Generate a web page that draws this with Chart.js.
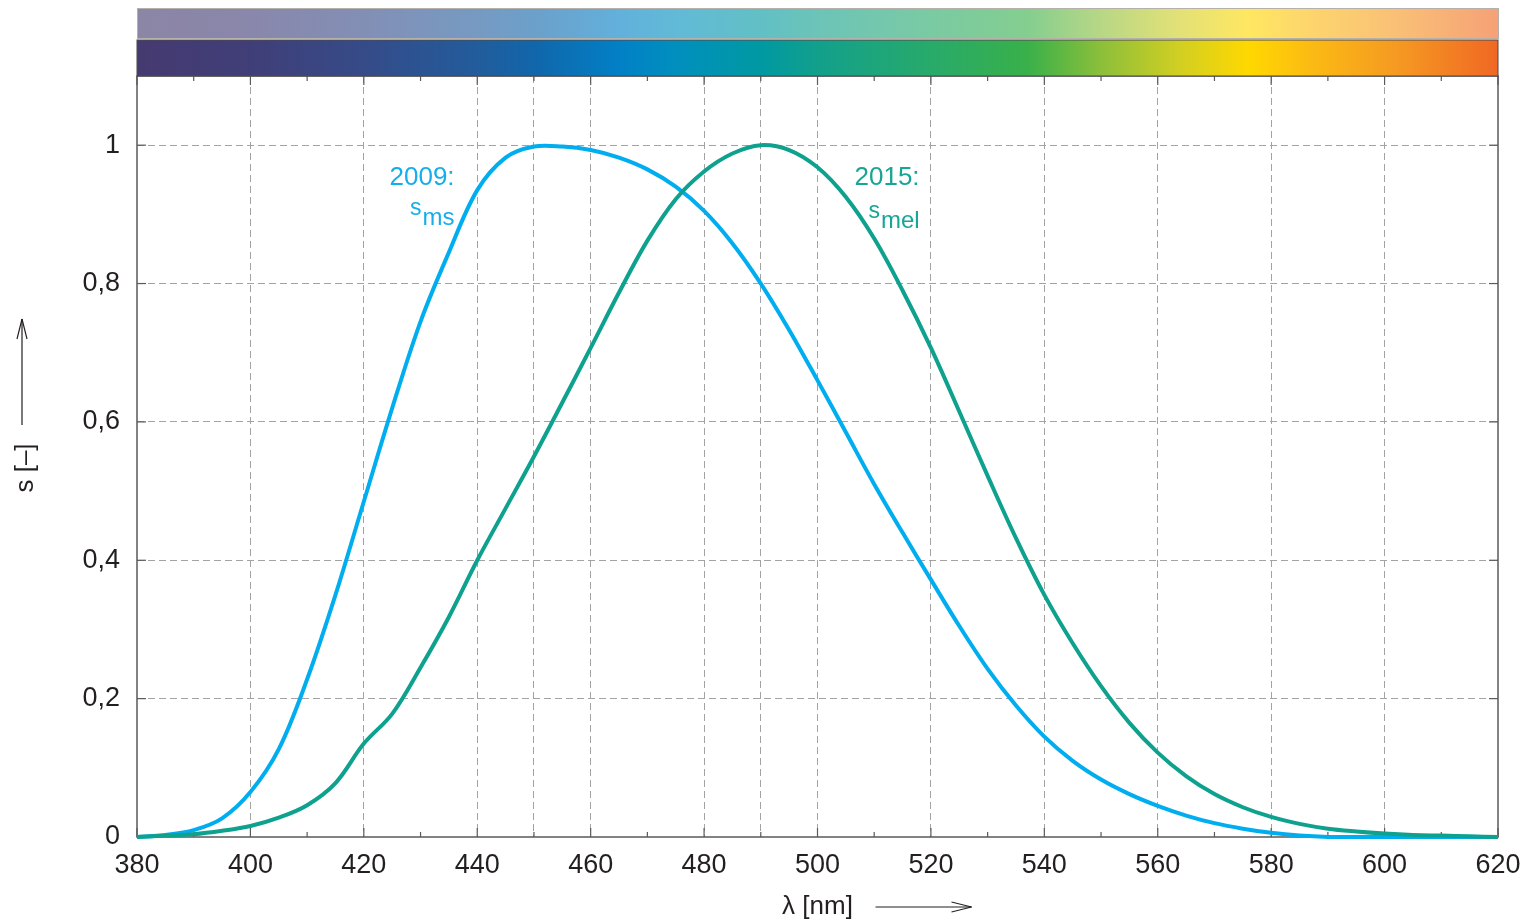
<!DOCTYPE html>
<html>
<head>
<meta charset="utf-8">
<script src="https://cdn.jsdelivr.net/npm/chart.js@4.4.1/dist/chart.umd.min.js"></script>
<style>
  html, body { margin: 0; padding: 0; background: #fff; }
  canvas { display: block; }
</style>
</head>
<body>
<canvas id="spectrumChart" width="1527" height="923"></canvas>
<script>
// wavelengths in nm
const wavelengths = [
  380, 385, 390, 395, 400, 405, 410, 415, 420, 425, 430, 435, 440, 445, 450,
  455, 460, 465, 470, 475, 480, 485, 490, 495, 500, 505, 510, 515, 520, 525,
  530, 535, 540, 545, 550, 555, 560, 565, 570, 575, 580, 585, 590, 595, 600,
  605, 610, 615, 620,
];

// 2009: s_ms
const smsValues = [
  0, 0.003, 0.01, 0.027, 0.065, 0.127, 0.228, 0.35, 0.485, 0.62, 0.745, 0.845, 0.935, 0.982, 0.998,
  0.998, 0.993, 0.982, 0.965, 0.94, 0.905, 0.858, 0.8, 0.733, 0.66, 0.585, 0.51, 0.44, 0.372, 0.305,
  0.243, 0.19, 0.145, 0.11, 0.083, 0.062, 0.045, 0.031, 0.02, 0.012, 0.006, 0.002, 0, 0, 0,
  0, 0, 0, 0,
];

// 2015: s_mel
const smelValues = [
  0, 0.002, 0.004, 0.009, 0.016, 0.028, 0.046, 0.078, 0.135, 0.178, 0.245, 0.318, 0.4, 0.475, 0.55,
  0.628, 0.707, 0.787, 0.862, 0.922, 0.962, 0.988, 1.0, 0.993, 0.968, 0.925, 0.865, 0.79, 0.707, 0.615,
  0.522, 0.432, 0.35, 0.28, 0.218, 0.165, 0.122, 0.088, 0.062, 0.043, 0.029, 0.019, 0.012, 0.008, 0.005,
  0.003, 0.002, 0.001, 0,
];

// vertical dashed grid lines (nm)
const xGridLines = [400, 420, 440, 450, 460, 480, 490, 500, 520, 540, 560, 580, 600];

// spectrum colour bar stops [nm, colour]
const spectrumStops = [
  [380, "#463a70"], [400, "#403e78"], [420, "#354b88"], [440, "#225c9c"],
  [450, "#1166aa"], [465, "#0280c6"], [475, "#008fbe"], [490, "#0099a2"],
  [500, "#12a08c"], [520, "#28aa6a"], [537, "#39b04a"], [550, "#8cbf3a"],
  [564, "#d2cf22"], [576, "#ffd800"], [586, "#fcbd12"], [602, "#f59a22"],
  [620, "#f06824"],
];

const blue = "#00aeef";
const teal = "#0ea18e";
const textColor = "#231f20";
const gridColor = "#a3a3a3";
const frameColor = "#5a5a5a";
const fontFamily = "'Liberation Sans', Arial, Helvetica, sans-serif";

// curve labels: [year, subscript, nm, value of first line, value of second line, colour]
const curveLabels = [
  ["2009:", "ms", 436, 0.942, 0.884, "#16aeea"],
  ["2015:", "mel", 518, 0.942, 0.881, "#17a596"],
];

function lighten(hex, f) {
  const n = parseInt(hex.slice(1), 16);
  const r = (n >> 16) & 255, g = (n >> 8) & 255, b = n & 255;
  const m = (c) => Math.round(c + (255 - c) * f);
  return "rgb(" + m(r) + "," + m(g) + "," + m(b) + ")";
}

function strokeLine(ctx, x1, y1, x2, y2) {
  ctx.beginPath();
  ctx.moveTo(x1, y1);
  ctx.lineTo(x2, y2);
  ctx.stroke();
}

const decorPlugin = {
  id: "decor",
  beforeDatasetsDraw(chart) {
    const { ctx, chartArea: a, scales: { x, y } } = chart;
    ctx.save();
    ctx.strokeStyle = frameColor;
    ctx.lineWidth = 1.2;
    x.ticks.forEach((t) => {
      const px = x.getPixelForValue(t.value);
      const len = t.value % 20 === 0 ? 9 : 5;
      strokeLine(ctx, px, a.bottom, px, a.bottom - len);
      strokeLine(ctx, px, a.top, px, a.top + len);
    });
    y.ticks.forEach((t) => {
      const py = y.getPixelForValue(t.value);
      strokeLine(ctx, a.left, py, a.left + 9, py);
      strokeLine(ctx, a.right, py, a.right - 9, py);
    });
    ctx.lineWidth = 1.5;
    ctx.strokeRect(a.left, a.top, a.right - a.left, a.bottom - a.top);
    ctx.restore();
  },
  afterDraw(chart) {
    const { ctx, chartArea: a, scales: { x, y } } = chart;
    ctx.save();

    // colour bars above the plot
    const x0 = x.getPixelForValue(380), x1 = x.getPixelForValue(620);
    const lower = ctx.createLinearGradient(x0, 0, x1, 0);
    const upper = ctx.createLinearGradient(x0, 0, x1, 0);
    spectrumStops.forEach(([nm, c]) => {
      const f = (nm - 380) / 240;
      lower.addColorStop(f, c);
      upper.addColorStop(f, lighten(c, 0.38));
    });
    ctx.fillStyle = upper;
    ctx.fillRect(x0, a.top - 68, x1 - x0, 30);
    ctx.strokeStyle = "#b5b0aa";
    ctx.lineWidth = 1;
    ctx.strokeRect(x0 + 0.5, a.top - 68 + 0.5, x1 - x0, 30);
    ctx.fillStyle = lower;
    ctx.fillRect(x0, a.top - 36, x1 - x0, 36);
    ctx.strokeStyle = "#4a4a4a";
    ctx.strokeRect(x0, a.top - 36, x1 - x0, 36);

    // curve labels
    ctx.textAlign = "right";
    ctx.textBaseline = "alphabetic";
    curveLabels.forEach(([year, sub, nm, v1, v2, c]) => {
      const px = x.getPixelForValue(nm);
      ctx.fillStyle = c;
      ctx.font = "26px " + fontFamily;
      ctx.fillText(year, px, y.getPixelForValue(v1));
      ctx.font = "24px " + fontFamily;
      const w = ctx.measureText(sub).width;
      const py = y.getPixelForValue(v2);
      ctx.fillText(sub, px, py);
      ctx.font = "23px " + fontFamily;
      ctx.fillText("s", px - w - 1, py - 10);
    });

    // axis titles with arrows
    ctx.fillStyle = textColor;
    ctx.strokeStyle = textColor;
    ctx.lineWidth = 1.2;
    ctx.font = "26px " + fontFamily;

    const yMid = 468;
    ctx.save();
    ctx.translate(26, yMid);
    ctx.rotate(-Math.PI / 2);
    ctx.textAlign = "center";
    ctx.textBaseline = "middle";
    ctx.fillText("s [\u2013]", 0, 0);
    ctx.restore();
    strokeLine(ctx, 22, yMid - 43, 22, yMid - 149);
    strokeLine(ctx, 22, yMid - 149, 17, yMid - 129);
    strokeLine(ctx, 22, yMid - 149, 27, yMid - 129);

    const xMid = (a.left + a.right) / 2;
    ctx.textAlign = "center";
    ctx.fillText("\u03bb [nm]", xMid, 914);
    strokeLine(ctx, xMid + 58, 907, xMid + 154, 907);
    strokeLine(ctx, xMid + 154, 907, xMid + 134, 902);
    strokeLine(ctx, xMid + 154, 907, xMid + 134, 912);
    ctx.restore();
  },
};

const toPoints = (vals) => wavelengths.map((w, i) => ({ x: w, y: vals[i] }));

const spectrumConfig = {
  type: "line",
  data: {
    datasets: [
      {
        label: "2015: smel",
        data: toPoints(smelValues),
        borderColor: teal,
        borderWidth: 4,
        pointRadius: 0,
        tension: 0.35,
        clip: false,
      },
      {
        label: "2009: sms",
        data: toPoints(smsValues),
        borderColor: blue,
        borderWidth: 4,
        pointRadius: 0,
        tension: 0.35,
        clip: false,
      },
    ],
  },
  options: {
    responsive: false,
    animation: false,
    layout: {
      padding: { top: 76, right: 29, left: 0, bottom: 0 },
    },
    plugins: {
      legend: { display: false },
      tooltip: { enabled: false },
    },
    scales: {
      x: {
        type: "linear",
        min: 380,
        max: 620,
        afterFit: (s) => {
          s.height = 86;
          s.paddingLeft = 0;
          s.paddingRight = 0;
        },
        ticks: {
          stepSize: 10,
          autoSkip: false,
          maxRotation: 0,
          padding: 12,
          color: textColor,
          font: { size: 27, family: fontFamily },
          callback: (v) => (v % 20 === 0 ? String(v) : ""),
        },
        grid: {
          drawTicks: false,
          lineWidth: 1,
          color: (c) => (xGridLines.includes(c.tick.value) ? gridColor : "rgba(0,0,0,0)"),
        },
        border: { display: false, dash: [7, 4] },
      },
      y: {
        min: 0,
        max: 1.1,
        afterFit: (s) => {
          s.width = 137;
          s.paddingTop = 0;
          s.paddingBottom = 0;
        },
        ticks: {
          stepSize: 0.2,
          includeBounds: false,
          padding: 17,
          color: textColor,
          font: { size: 27, family: fontFamily },
          callback: (v) => String(Math.round(v * 10) / 10).replace(".", ","),
        },
        grid: {
          drawTicks: false,
          lineWidth: 1,
          color: (c) => (c.tick.value > 0.01 ? gridColor : "rgba(0,0,0,0)"),
        },
        border: { display: false, dash: [7, 4] },
      },
    },
  },
  plugins: [decorPlugin],
};

const spectrumChart = new Chart(document.getElementById("spectrumChart"), spectrumConfig);
</script>
</body>
</html>
